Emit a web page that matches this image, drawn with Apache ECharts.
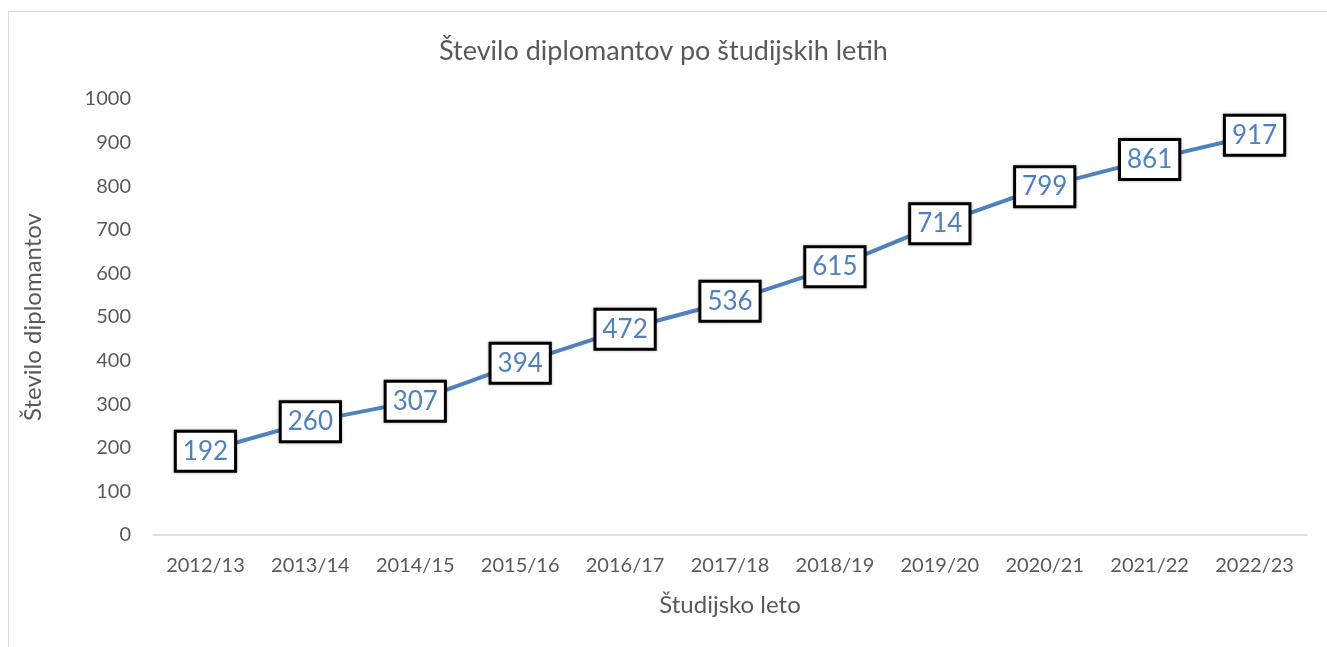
<!DOCTYPE html>
<html>
<head>
<meta charset="utf-8">
<script src="https://cdn.jsdelivr.net/npm/echarts@6/dist/echarts.min.js"></script>
<style>
  html, body { margin: 0; padding: 0; background: #fff; }
  #chart { width: 1327px; height: 647px; }
</style>
</head>
<body>
<div id="chart"></div>
<script>
// data
const years = ['2012/13', '2013/14', '2014/15', '2015/16', '2016/17', '2017/18',
               '2018/19', '2019/20', '2020/21', '2021/22', '2022/23'];
const graduates = [192, 260, 307, 394, 472, 536, 615, 714, 799, 861, 917];

const font = 'Lato, sans-serif';
const chart = echarts.init(document.getElementById('chart'));

chart.setOption({
    animation: false,
    backgroundColor: '#fff',
    graphic: [{
        type: 'rect',
        shape: {x: 8.5, y: 11.5, width: 1400, height: 700},
        style: {fill: 'none', stroke: '#d9d9d9', lineWidth: 1},
        silent: true
    }],
    title: {
        text: 'Število diplomantov po študijskih letih',
        left: 'center',
        top: 33,
        textStyle: {
            fontFamily: font,
            fontSize: 27,
            fontWeight: 'normal',
            color: '#595959'
        }
    },
    grid: {
        left: 153,
        right: 20,
        top: 99,
        bottom: 112
    },
    xAxis: {
        type: 'category',
        data: years,
        name: 'Študijsko leto',
        nameLocation: 'middle',
        nameGap: 58,
        nameTextStyle: {fontFamily: font, fontSize: 24, color: '#595959'},
        axisLine: {lineStyle: {color: '#d9d9d9', width: 1.5}},
        axisTick: {show: false},
        axisLabel: {fontFamily: font, fontSize: 20, color: '#595959', margin: 21}
    },
    yAxis: {
        type: 'value',
        min: 0,
        max: 1000,
        interval: 100,
        name: 'Število diplomantov',
        nameLocation: 'middle',
        nameGap: 108,
        nameTextStyle: {fontFamily: font, fontSize: 24, color: '#595959'},
        axisLine: {show: false},
        axisTick: {show: false},
        splitLine: {show: false},
        axisLabel: {
            fontFamily: font, fontSize: 20, color: '#595959', margin: 22,
            formatter: v => String(v)
        }
    },
    series: [{
        type: 'line',
        data: graduates,
        symbol: 'circle',
        symbolSize: 1,
        lineStyle: {color: '#4f81bd', width: 4},
        itemStyle: {color: '#4f81bd'},
        label: {
            show: true,
            position: 'inside',
            fontFamily: font,
            fontSize: 26,
            lineHeight: 30,
            color: '#4f81bd',
            backgroundColor: '#fff',
            borderColor: '#000',
            borderWidth: 3,
            padding: [4, 6, 3, 6],
            shadowColor: 'rgba(0,0,0,0.35)',
            shadowBlur: 3
        }
    }]
});
</script>
</body>
</html>
